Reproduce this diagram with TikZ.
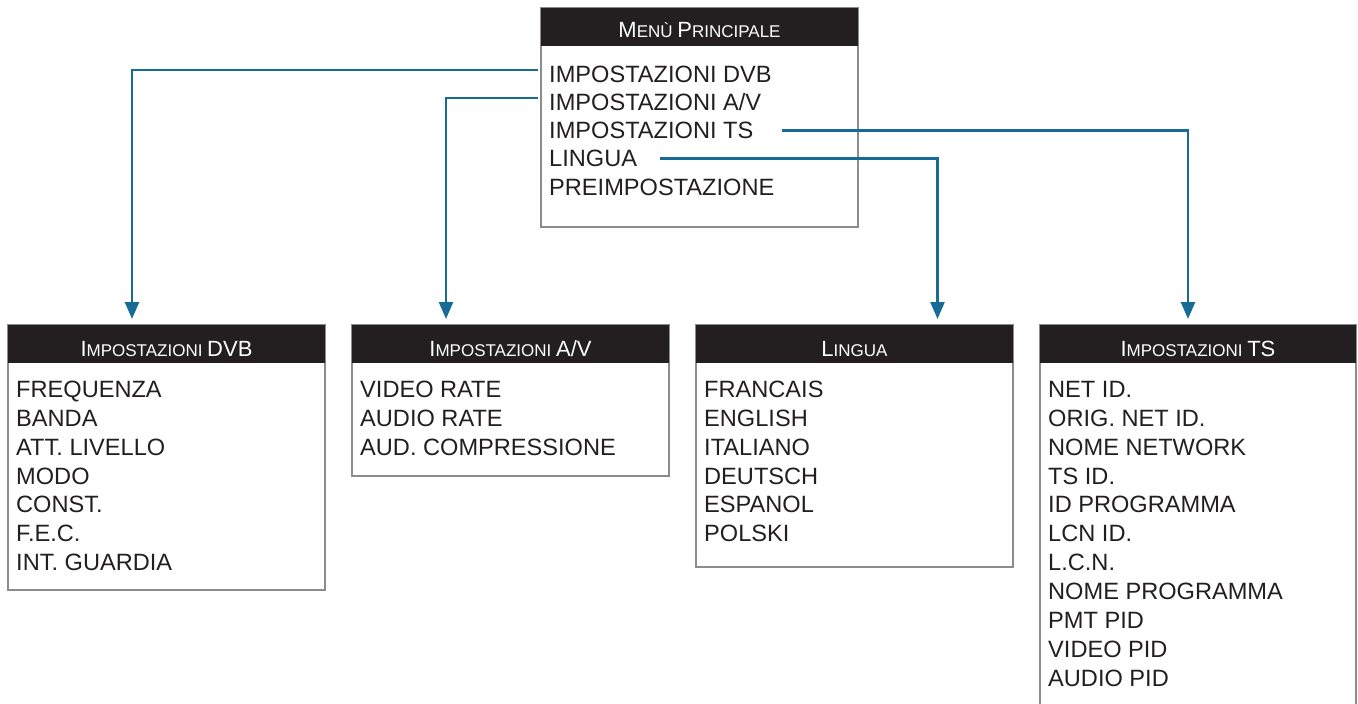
\documentclass[tikz,border=0pt]{standalone}
\usepackage{fontspec}
\setmainfont{Liberation Sans}
\usetikzlibrary{arrows.meta}
\definecolor{ink}{HTML}{231F20}
\definecolor{frame}{HTML}{8C8C8C}
\definecolor{link}{HTML}{176C96}
\newcommand{\capsA}{\fontsize{22}{22}\selectfont}
\newcommand{\capsB}{\fontsize{17}{17}\selectfont}
\newcommand{\itemfont}{\fontsize{23.6}{26}\selectfont}
\tikzset{
  panel/.style={draw=frame, line width=1.3pt, fill=white, inner sep=0pt, outer sep=0pt, anchor=north west, minimum width=317pt},
  hdrbar/.style={fill=ink, inner sep=0pt, outer sep=0pt, anchor=north west, minimum width=317pt},
  hdrtext/.style={text=white, inner sep=0pt, anchor=base},
  item/.style={text=ink, inner sep=0pt, anchor=base west, font=\itemfont},
  conn/.style={draw=link, line width=2.4pt, -{Triangle[length=17pt,width=14pt]}}
}
\begin{document}
\begin{tikzpicture}[x=1pt,y=-1pt]
\useasboundingbox (0,0) rectangle (1358,704);
\clip (0,0) rectangle (1358,704);

% main menu
\node[panel, minimum height=219pt] (mainbox) at (541,8) {};
\node[hdrbar, minimum height=38pt] (mainh) at (mainbox.north west) {};
\node[hdrtext] (maint) at (699.5,37) {\capsA M\capsB ENÙ \capsA P\capsB RINCIPALE};
\node[item] (m1) at (549,82) {IMPOSTAZIONI DVB};
\node[item] (m2) at (549,110.3) {IMPOSTAZIONI A/V};
\node[item] (m3) at (549,138.6) {IMPOSTAZIONI TS};
\node[item] (m4) at (549,166.9) {LINGUA};
\node[item] (m5) at (549,195.2) {PREIMPOSTAZIONE};

% DVB
\node[panel, minimum height=265pt] (dvb) at (8,325) {};
\node[hdrbar, minimum height=37.5pt] (dvbh) at (dvb.north west) {};
\node[hdrtext] (dvbt) at (166.5,356) {\capsA I\capsB MPOSTAZIONI \capsA DVB};
\foreach \t [count=\i] in {FREQUENZA,BANDA,ATT. LIVELLO,MODO,CONST.,F.E.C.,INT. GUARDIA}
  \node[item] (dvb-\i) at (16,{397.5+28.85*(\i-1)}) {\t};

% A/V
\node[panel, minimum height=151pt] (av) at (352,325) {};
\node[hdrbar, minimum height=37.5pt] (avh) at (av.north west) {};
\node[hdrtext] (avt) at (510.5,356) {\capsA I\capsB MPOSTAZIONI \capsA A/V};
\foreach \t [count=\i] in {VIDEO RATE,AUDIO RATE,AUD. COMPRESSIONE}
  \node[item] (av-\i) at (360,{397.5+28.85*(\i-1)}) {\t};

% Lingua
\node[panel, minimum height=242pt] (lin) at (696,325) {};
\node[hdrbar, minimum height=37.5pt] (linh) at (lin.north west) {};
\node[hdrtext] (lint) at (854.5,356) {\capsA L\capsB INGUA};
\foreach \t [count=\i] in {FRANCAIS,ENGLISH,ITALIANO,DEUTSCH,ESPANOL,POLSKI}
  \node[item] (lin-\i) at (704,{397.5+28.85*(\i-1)}) {\t};

% TS
\node[panel, minimum width=316pt, minimum height=420pt] (ts) at (1040,325) {};
\node[hdrbar, minimum width=316pt, minimum height=37.5pt] (tsh) at (ts.north west) {};
\node[hdrtext] (tst) at (1198,356) {\capsA I\capsB MPOSTAZIONI \capsA TS};
\foreach \t [count=\i] in {NET ID.,ORIG. NET ID.,NOME NETWORK,TS ID.,ID PROGRAMMA,LCN ID.,L.C.N.,NOME PROGRAMMA,PMT PID,VIDEO PID,AUDIO PID}
  \node[item] (ts-\i) at (1048,{397.5+28.85*(\i-1)}) {\t};

% connector ends
\coordinate (s1) at (538,70);
\coordinate (s2) at (538,98);
\coordinate (s3) at (782,130.5);
\coordinate (s4) at (660,158.5);
\coordinate (t1) at ([xshift=124pt,yshift=6pt]dvbh.north west);
\coordinate (t2) at ([xshift=94pt,yshift=6pt]avh.north west);
\coordinate (t3) at ([xshift=148pt,yshift=6pt]tsh.north west);
\coordinate (t4) at ([xshift=241.5pt,yshift=6pt]linh.north west);

\draw[conn] (s1) -| (t1);
\draw[conn] (s2) -| (t2);
\draw[conn] (s3) -| (t3);
\draw[conn] (s4) -| (t4);
\end{tikzpicture}
\end{document}
